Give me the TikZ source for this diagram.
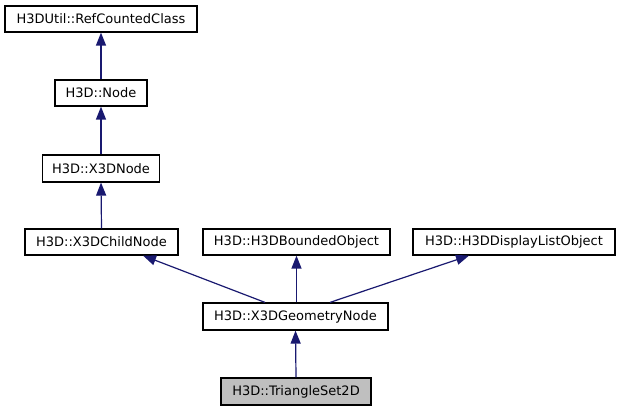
\documentclass[tikz,border=0pt]{standalone}
\usepackage{fontspec}
\setmainfont{DejaVu Sans}
\usetikzlibrary{arrows.meta}
\definecolor{edgeblue}{HTML}{191970}
\definecolor{hlgray}{HTML}{BFBFBF}
\tikzset{
  cls/.style={draw=black, line width=1.2pt, fill=white, minimum height=26pt, inner sep=0pt,
    font=\fontsize{13}{15}\selectfont, text=black},
  inh/.style={draw=edgeblue, line width=1.2pt, -{Triangle[length=13pt,width=10pt]}},
}
\begin{document}
\begin{tikzpicture}[x=1pt,y=1pt]
\useasboundingbox (0,0) rectangle (617,411);
\node[cls, minimum width=192pt] (ref) at (101,392) {H3DUtil::RefCountedClass};
\node[cls, minimum width=92pt] (node) at (101,318) {H3D::Node};
\node[cls, minimum width=117pt, minimum height=27pt] (x3d) at (101,242.5) {H3D::X3DNode};
\node[cls, minimum width=153pt] (child) at (101.5,169) {H3D::X3DChildNode};
\node[cls, minimum width=187pt] (bound) at (296.5,169) {H3D::H3DBoundedObject};
\node[cls, minimum width=202pt] (disp) at (514,169) {H3D::H3DDisplayListObject};
\node[cls, minimum width=185pt, minimum height=27pt] (geo) at (295.5,94.5) {H3D::X3DGeometryNode};
\node[cls, minimum width=150pt, minimum height=27pt, fill=hlgray] (tri) at (296,19.5) {H3D::TriangleSet2D};
\draw[inh] (node.north) -- (ref.south);
\draw[inh] (x3d.north) -- (node.south);
\draw[inh] (child.north) -- (x3d.south);
\draw[inh] ([xshift=-30.5pt]geo.north) -- ([xshift=41.5pt]child.south);
\draw[inh] (geo.north -| bound.south) -- (bound.south);
\draw[inh] ([xshift=34.5pt]geo.north) -- ([xshift=-45pt]disp.south);
\draw[inh] (tri.north) -- (geo.south);
\end{tikzpicture}
\end{document}
